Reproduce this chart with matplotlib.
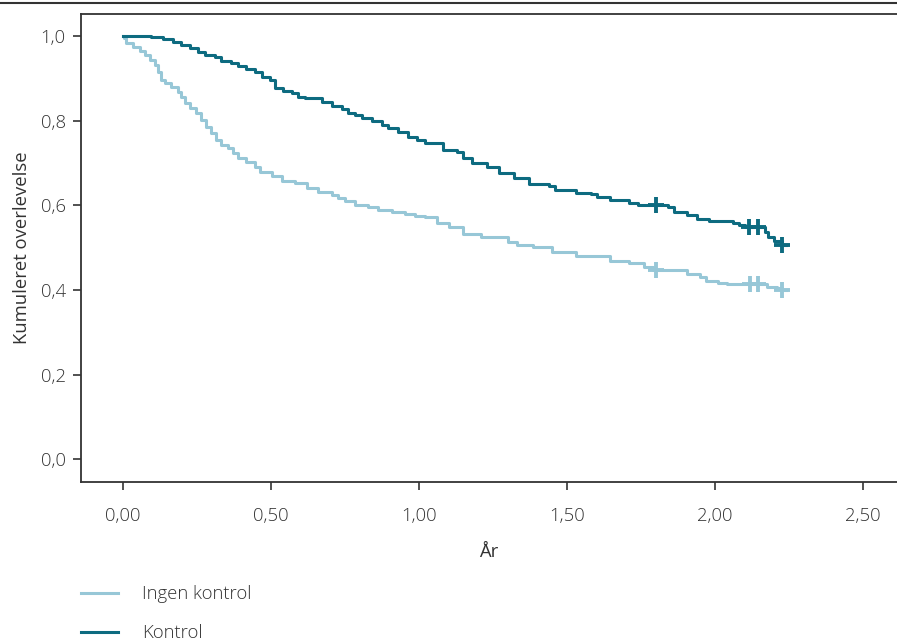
import numpy as np
import matplotlib
matplotlib.use('Agg')
import matplotlib.pyplot as plt
from matplotlib.lines import Line2D

plt.rcParams['font.family'] = ['Open Sans', 'DejaVu Sans']
plt.rcParams['font.weight'] = 'light'
plt.rcParams['text.color'] = '#333333'

# Kaplan-Meier estimates (years, cumulative survival)
kontrol_t = [0.0, 0.095, 0.135, 0.169, 0.196, 0.226, 0.253, 0.277, 0.311, 0.331, 0.365, 0.389,
             0.416, 0.446, 0.470, 0.497, 0.514, 0.541, 0.571, 0.591, 0.615, 0.672, 0.706, 0.740,
             0.760, 0.784, 0.807, 0.841, 0.875, 0.895, 0.929, 0.963, 0.993, 1.020, 1.08, 1.13,
             1.15, 1.18, 1.23, 1.27, 1.32, 1.37, 1.44, 1.46, 1.53, 1.58, 1.60, 1.645,
             1.71, 1.74, 1.84, 1.86, 1.905, 1.94, 1.98, 2.06, 2.08, 2.10, 2.17, 2.18,
             2.20, 2.225, 2.24]
kontrol_s = [1.0, 0.998, 0.993, 0.986, 0.979, 0.972, 0.962, 0.955, 0.950, 0.941, 0.936, 0.929,
             0.922, 0.915, 0.903, 0.896, 0.877, 0.870, 0.865, 0.856, 0.853, 0.844, 0.835, 0.827,
             0.818, 0.813, 0.806, 0.799, 0.790, 0.783, 0.773, 0.761, 0.754, 0.747, 0.730, 0.726,
             0.712, 0.700, 0.690, 0.676, 0.664, 0.650, 0.645, 0.636, 0.629, 0.626, 0.619, 0.612,
             0.605, 0.600, 0.596, 0.584, 0.577, 0.567, 0.563, 0.558, 0.553, 0.548, 0.537, 0.525,
             0.515, 0.506, 0.506]
kontrol_censor = [1.80, 2.115, 2.145, 2.225]

ingen_t = [0.0, 0.003, 0.010, 0.034, 0.057, 0.074, 0.091, 0.108, 0.118, 0.128, 0.142, 0.162,
           0.186, 0.196, 0.209, 0.226, 0.247, 0.264, 0.280, 0.297, 0.314, 0.331, 0.355, 0.372,
           0.389, 0.416, 0.446, 0.463, 0.503, 0.537, 0.581, 0.622, 0.659, 0.706, 0.726, 0.750,
           0.784, 0.828, 0.861, 0.909, 0.953, 0.986, 1.020, 1.06, 1.10, 1.15, 1.21, 1.30,
           1.33, 1.385, 1.45, 1.53, 1.645, 1.71, 1.76, 1.79, 1.905, 1.95, 1.97, 2.01,
           2.04, 2.175, 2.21, 2.225, 2.24]
ingen_s = [1.0, 0.995, 0.983, 0.974, 0.965, 0.955, 0.943, 0.931, 0.915, 0.896, 0.889, 0.879,
           0.868, 0.856, 0.842, 0.830, 0.818, 0.801, 0.785, 0.771, 0.754, 0.742, 0.735, 0.723,
           0.712, 0.702, 0.690, 0.678, 0.669, 0.657, 0.652, 0.641, 0.631, 0.624, 0.617, 0.610,
           0.600, 0.596, 0.589, 0.584, 0.579, 0.574, 0.572, 0.558, 0.548, 0.532, 0.525, 0.513,
           0.506, 0.501, 0.489, 0.480, 0.468, 0.463, 0.454, 0.447, 0.437, 0.430, 0.421, 0.416,
           0.414, 0.407, 0.404, 0.400, 0.400]
ingen_censor = [1.80, 2.12, 2.145, 2.225]

x_ticks = [0.0, 0.5, 1.0, 1.5, 2.0, 2.5]
x_ticklabels = ['0,00', '0,50', '1,00', '1,50', '2,00', '2,50']
y_ticks = [0.0, 0.2, 0.4, 0.6, 0.8, 1.0]
y_ticklabels = ['0,0', '0,2', '0,4', '0,6', '0,8', '1,0']

light = '#97c7d7'
dark = '#0d6b80'
ink = '#333333'
fs = 13.3


def surv_at(t, s, when):
    idx = np.searchsorted(t, when, side='right') - 1
    return np.asarray(s)[idx]


fig = plt.figure(figsize=(8.97, 6.39), dpi=100)
ax = fig.add_axes([0.0903, 0.2457, 0.9097, 0.7324])

ax.plot(ingen_t, ingen_s, drawstyle='steps-post', color=light, lw=2.2,
        label='Ingen kontrol')
ax.plot(ingen_censor, surv_at(ingen_t, ingen_s, ingen_censor), ls='none',
        marker='+', ms=11, mew=2.8, color=light)
ax.plot(kontrol_t, kontrol_s, drawstyle='steps-post', color=dark, lw=2.2,
        label='Kontrol')
ax.plot(kontrol_censor, surv_at(kontrol_t, kontrol_s, kontrol_censor), ls='none',
        marker='+', ms=11, mew=2.8, color=dark)

ax.set_xlim(-0.142, 2.615)
ax.set_ylim(-0.054, 1.052)
ax.set_xticks(x_ticks)
ax.set_xticklabels(x_ticklabels)
ax.set_yticks(y_ticks)
ax.set_yticklabels(y_ticklabels)
ax.tick_params(axis='both', direction='out', length=6, width=1.2, color=ink,
               labelsize=fs, labelcolor=ink)
ax.tick_params(axis='x', pad=12)
ax.tick_params(axis='y', pad=5)

for side in ['left', 'bottom', 'top']:
    ax.spines[side].set_color(ink)
    ax.spines[side].set_linewidth(1.3)
ax.spines['right'].set_visible(False)

ax.set_xlabel('År', fontsize=fs, color=ink, labelpad=13)
ax.set_ylabel('Kumuleret overlevelse', fontsize=fs, color=ink, labelpad=7)

# rule across the top of the figure
fig.add_artist(Line2D([0, 1], [1 - 2.5 / 639] * 2, transform=fig.transFigure,
                      color=ink, lw=1.5))

fig.legend(handles=[ax.get_lines()[0], ax.get_lines()[2]], loc='upper left',
           bbox_to_anchor=(81 / 897, 1 - 585 / 639), frameon=False, fontsize=fs,
           handlelength=2.0, handletextpad=1.3, labelspacing=1.16,
           borderaxespad=0.0, borderpad=0.0)

fig.savefig('out.png', dpi=100)
